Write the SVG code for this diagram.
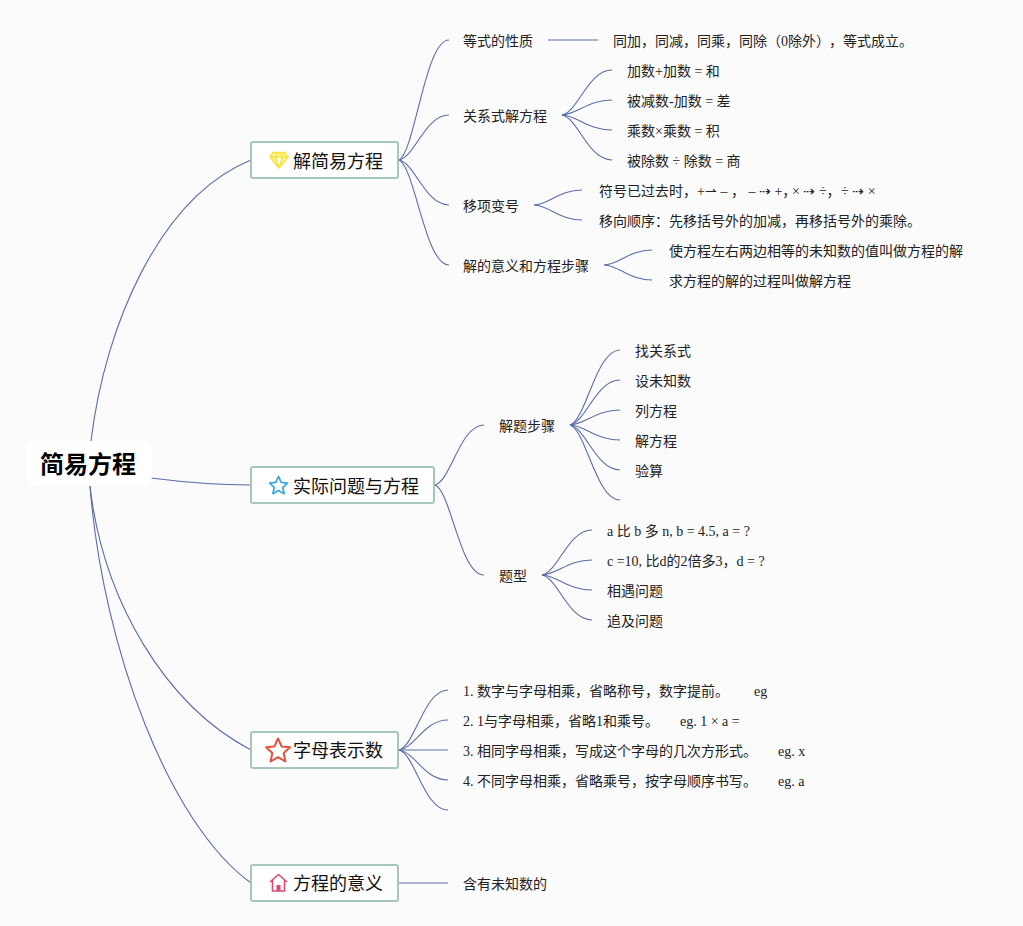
<svg xmlns="http://www.w3.org/2000/svg" width="1023" height="926" viewBox="0 0 1023 926">
<style>
text{font-family:"Liberation Serif","Noto Sans CJK SC",serif;font-size:14px;fill:#222}
.t{font-family:"Noto Sans CJK SC","Liberation Sans",sans-serif;font-size:18px;fill:#111}
.r{font-family:"Noto Sans CJK SC","Liberation Sans",sans-serif;font-size:24px;font-weight:700;fill:#000}
.b{fill:#fff;stroke:#a6c5bd;stroke-width:2}
#connectors path{fill:none;stroke:#5a6ea6;stroke-width:1.1}
</style>
<rect width="1023" height="926" fill="#fbfbfc"/>
<g id="connectors">
<path d="M91 441C105 325 160 197 251 160"/>
<path d="M151 478C190 483 215 485 251 485"/>
<path d="M90 486C103 600 165 705 251 750"/>
<path d="M90 486C103 650 170 825 251 883"/>
<path d="M399 160C415 152 425 40 449 40"/>
<path d="M399 160C415 157 425 115 449 115"/>
<path d="M399 160C415 163 425 205 449 205"/>
<path d="M399 160C415 167 425 265 449 265"/>
<path d="M548 40H598"/>
<path d="M562 115C578 112 588 70 612 70"/>
<path d="M562 115C578 114 588 100 612 100"/>
<path d="M562 115C578 116 588 130 612 130"/>
<path d="M562 115C578 118 588 160 612 160"/>
<path d="M534 205C550 204 559 190 582 190"/>
<path d="M534 205C550 206 559 220 582 220"/>
<path d="M604 265C620 264 629 250 652 250"/>
<path d="M604 265C620 266 629 280 652 280"/>
<path d="M435 485C451 481 460 425 484 425"/>
<path d="M435 485C451 491 460 575 484 575"/>
<path d="M570 425C586 420 596 350 620 350"/>
<path d="M570 425C586 422 596 380 620 380"/>
<path d="M570 425C586 424 596 410 620 410"/>
<path d="M570 425C586 426 596 440 620 440"/>
<path d="M570 425C586 428 596 470 620 470"/>
<path d="M570 425C586 430 596 500 620 500"/>
<path d="M542 575C558 572 568 530 592 530"/>
<path d="M542 575C558 574 568 560 592 560"/>
<path d="M542 575C558 576 568 590 592 590"/>
<path d="M542 575C558 578 568 620 592 620"/>
<path d="M399 750C415 746 424 690 448 690"/>
<path d="M399 750C415 748 424 720 448 720"/>
<path d="M399 750H448"/>
<path d="M399 750C415 752 424 780 448 780"/>
<path d="M399 750C415 754 424 810 448 810"/>
<path d="M399 883H448"/>
</g>
<g id="root"><rect x="26" y="441" width="126" height="45" rx="10" fill="#fff"/><text class="r" x="40" y="473">简易方程</text></g>
<g id="n1"><rect class="b" x="251" y="142" width="147" height="36" rx="2"/>
<path d="M273 152.500H285L288 157L279 168L270 157ZM270 157H288M275.500 157L279 168L282.500 157M275.500 157L277 152.500M282.500 157L281 152.500" fill="#fdf3a0" stroke="#f7e53c" stroke-width="1.500" stroke-linejoin="round"/>
<text class="t" x="293" y="168">解简易方程</text></g>
<g id="n2"><rect class="b" x="251" y="467" width="183" height="36" rx="2"/>
<path d="M278.500 476.500L281.200 482.400L287.500 483.100L282.800 487.400L284.100 493.700L278.500 490.500L272.900 493.700L274.200 487.400L269.500 483.100L275.800 482.400Z" fill="#fff" stroke="#33a6e0" stroke-width="1.700" stroke-linejoin="round"/>
<text class="t" x="293" y="493">实际问题与方程</text></g>
<g id="n3"><rect class="b" x="251" y="732" width="147" height="36" rx="2"/>
<path d="M278 738.500L281.600 746.400L290 747.300L283.700 753L285.400 761.500L278 757.200L270.600 761.500L272.300 753L266 747.300L274.400 746.400Z" fill="#fff" stroke="#e8503e" stroke-width="2" stroke-linejoin="round"/>
<text class="t" x="293" y="757">字母表示数</text></g>
<g id="n4"><rect class="b" x="251" y="865" width="147" height="36" rx="2"/>
<path d="M270 882L278.500 874.500L287 882M272.500 880V891H284.500V880" fill="#fff" stroke="#dd4a72" stroke-width="1.600" stroke-linejoin="round"/><rect x="276.500" y="885" width="4" height="6" fill="#dd4a72"/>
<text class="t" x="293" y="890">方程的意义</text></g>
<g id="l1"><text x="463" y="46">等式的性质</text></g>
<g id="l2"><text x="613" y="46">同加，同减，同乘，同除（0除外）<tspan dx="6">，等式成立。</tspan></text></g>
<g id="l3"><text x="463" y="121">关系式解方程</text></g>
<g id="l4"><text x="627" y="76">加数+加数 = 和</text></g>
<g id="l5"><text x="627" y="106">被减数-加数 = 差</text></g>
<g id="l6"><text x="627" y="136">乘数×乘数 = 积</text></g>
<g id="l7"><text x="627" y="166">被除数 ÷ 除数 = 商</text></g>
<g id="l8"><text x="463" y="211">移项变号</text></g>
<g id="l9"><text x="599" y="196">符号已过去时，+⇀ – ， – ⇢ +，<tspan x="792">× ⇢ ÷，</tspan><tspan x="841">÷ ⇢ ×</tspan></text></g>
<g id="l10"><text x="599" y="226">移向顺序：先移括号外的加减，再移括号外的乘除。</text></g>
<g id="l11"><text x="463" y="271">解的意义和方程步骤</text></g>
<g id="l12"><text x="669" y="256">使方程左右两边相等的未知数的值叫做方程的解</text></g>
<g id="l13"><text x="669" y="286">求方程的解的过程叫做解方程</text></g>
<g id="l14"><text x="499" y="431">解题步骤</text></g>
<g id="l15"><text x="635" y="356">找关系式</text></g>
<g id="l16"><text x="635" y="386">设未知数</text></g>
<g id="l17"><text x="635" y="416">列方程</text></g>
<g id="l18"><text x="635" y="446">解方程</text></g>
<g id="l19"><text x="635" y="476">验算</text></g>
<g id="l20"><text x="499" y="581">题型</text></g>
<g id="l21"><text x="607" y="536">a 比 b 多 n, b = 4.5, a = ?</text></g>
<g id="l22"><text x="607" y="566">c =10, 比d的2倍多3，d = ?</text></g>
<g id="l23"><text x="607" y="596">相遇问题</text></g>
<g id="l24"><text x="607" y="626">追及问题</text></g>
<g id="l25"><text x="463" y="696">1. 数字与字母相乘，省略称号，数字提前。<tspan x="754">eg</tspan></text></g>
<g id="l26"><text x="463" y="726">2. 1与字母相乘，省略1和乘号。<tspan x="680">eg. 1 × a =</tspan></text></g>
<g id="l27"><text x="463" y="756">3. 相同字母相乘，写成这个字母的几次方形式。<tspan x="778">eg. x</tspan></text></g>
<g id="l28"><text x="463" y="786">4. 不同字母相乘，省略乘号，按字母顺序书写。<tspan x="778">eg. a</tspan></text></g>
<g id="l29"><text x="463" y="889">含有未知数的</text></g>
</svg>
